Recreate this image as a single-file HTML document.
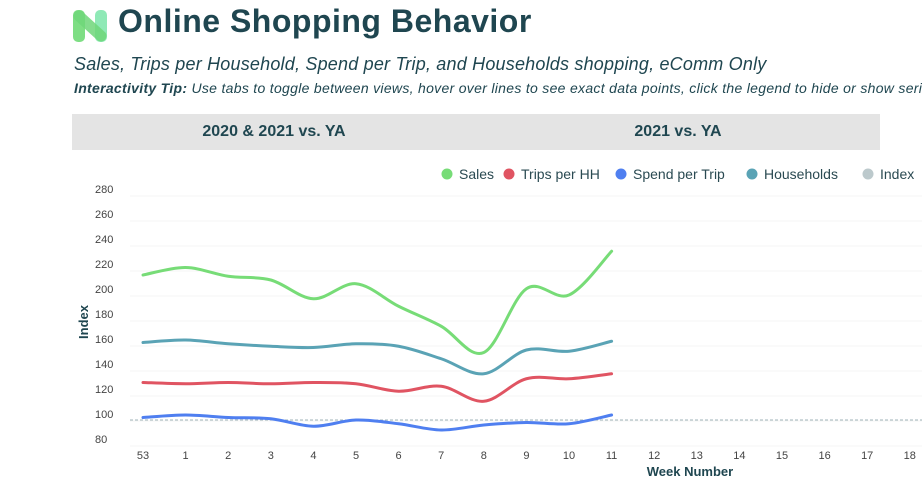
<!DOCTYPE html>
<html><head><meta charset="utf-8"><style>
body{margin:0;width:922px;height:504px;overflow:hidden;background:#fff;font-family:"Liberation Sans",sans-serif;color:#1f4650;position:relative}
.abs{position:absolute}
</style></head><body>
<svg class="abs" style="left:72px;top:8px" width="36" height="36">
<rect x="0" y="0" width="36" height="36" rx="6" fill="#fff"/>
<rect x="1" y="2" width="12" height="32" rx="5" fill="#7ede84"/>
<rect x="23" y="2" width="12" height="32" rx="5" fill="#8fe9b6"/>
<line x1="7" y1="8" x2="29" y2="28" stroke="#6fd77a" stroke-width="11" stroke-linecap="round" opacity="0.85"/>
</svg>
<div class="abs" style="left:118px;top:3px;font-size:32px;font-weight:bold;letter-spacing:0.5px">Online Shopping Behavior</div>
<div class="abs" style="left:74px;top:54px;font-size:18px;font-style:italic;letter-spacing:0.2px;white-space:nowrap">Sales, Trips per Household, Spend per Trip, and Households shopping, eComm Only</div>
<div class="abs" style="left:74px;top:80px;font-size:14px;font-style:italic;letter-spacing:0.3px;white-space:nowrap"><b>Interactivity Tip:</b> Use tabs to toggle between views, hover over lines to see exact data points, click the legend to hide or show series</div>
<div class="abs" style="left:72px;top:114px;width:808px;height:36px;background:#e4e4e4"></div>
<div class="abs" style="left:72px;top:114px;width:404px;height:36px;line-height:36px;text-align:center;font-weight:bold;font-size:16px">2020 &amp; 2021 vs. YA</div>
<div class="abs" style="left:476px;top:114px;width:404px;height:36px;line-height:36px;text-align:center;font-weight:bold;font-size:16px">2021 vs. YA</div>
<svg id="chart" class="abs" style="left:0;top:0" width="922" height="504"></svg>
<script>
const weeks=["53","1","2","3","4","5","6","7","8","9","10","11","12","13","14","15","16","17","18"];
const sales=[216,222,215,212,197,209,191,175,154,205,200,235];
const trips=[130,129,130,129,130,129,123,127,115,133,133,137];
const spend=[102,104,102,101,95,100,97,92,96,98,97,104];
const households=[162,164,161,159,158,161,159,149,137,156,155,163];
const yTicks=[80,100,120,140,160,180,200,220,240,260,280];
const seriesNames=["Sales","Trips per HH","Spend per Trip","Households","Index"];
const seriesColors=["#77dc77","#e05462","#4f7ff0","#5aa3b5","#bcc9cc"];
const NS="http://www.w3.org/2000/svg";
const svg=document.getElementById('chart');
function x(i){return 143+i*42.6;}
function y(v){return 420-(v-100)*1.25;}
function mk(tag,attrs){const e=document.createElementNS(NS,tag);for(const k in attrs)e.setAttribute(k,attrs[k]);svg.appendChild(e);return e;}
yTicks.forEach(v=>{
  const g=mk('line',{x1:130,x2:922,y1:y(v)+1,y2:y(v)+1,stroke:'#f4f4f4'});
  
  
  const t=mk('text',{x:95,y:y(v)-2,'font-size':11,fill:'#444','font-family':'Liberation Sans'});
  t.textContent=v;
  
  
});
weeks.forEach((w,i)=>{
  const t=mk('text',{x:x(i),y:459,'font-size':11,fill:'#444','text-anchor':'middle','font-family':'Liberation Sans'});
  t.textContent=w;
  
  
});
const ix=mk('line',{x1:130,x2:922,y1:y(100),y2:y(100),stroke:'#9fb3b8','stroke-dasharray':'3,2'});


const yt=mk('text',{x:0,y:0,'font-size':13,'font-weight':'bold',fill:'#1f4650',transform:'translate(88,322) rotate(-90)','text-anchor':'middle','font-family':'Liberation Sans'});
yt.textContent='Index';


const xt=mk('text',{x:690,y:476,'font-size':13,'font-weight':'bold',fill:'#1f4650','text-anchor':'middle','font-family':'Liberation Sans'});
xt.textContent='Week Number';


function path(vals){
  const p=vals.map((v,i)=>[x(i),y(v)]);
  let d='M'+p[0][0]+','+p[0][1];
  for(let i=0;i<p.length-1;i++){
    const p0=p[Math.max(i-1,0)],p1=p[i],p2=p[i+1],p3=p[Math.min(i+2,p.length-1)];
    const c1=[p1[0]+(p2[0]-p0[0])/6,p1[1]+(p2[1]-p0[1])/6];
    const c2=[p2[0]-(p3[0]-p1[0])/6,p2[1]-(p3[1]-p1[1])/6];
    d+=' C'+c1[0]+','+c1[1]+' '+c2[0]+','+c2[1]+' '+p2[0]+','+p2[1];
  }
  return d;
}
[[sales,0,'sales-line'],[households,3,'households-line'],[trips,1,'trips-line'],[spend,2,'spend-line']].forEach(s=>{
  const e=mk('path',{d:path(s[0]),fill:'none',stroke:seriesColors[s[1]],'stroke-width':3,'stroke-linecap':'round'});
  
  
});
const legX=[447,509,621,752,868];
seriesNames.forEach((n,i)=>{
  const c=mk('circle',{cx:legX[i],cy:174,r:5.5,fill:seriesColors[i]});
  
  
  const t=mk('text',{x:legX[i]+12,y:179,'font-size':14,fill:'#2a4a52','font-family':'Liberation Sans'});
  t.textContent=n;
  
  
});
</script>
</body></html>
